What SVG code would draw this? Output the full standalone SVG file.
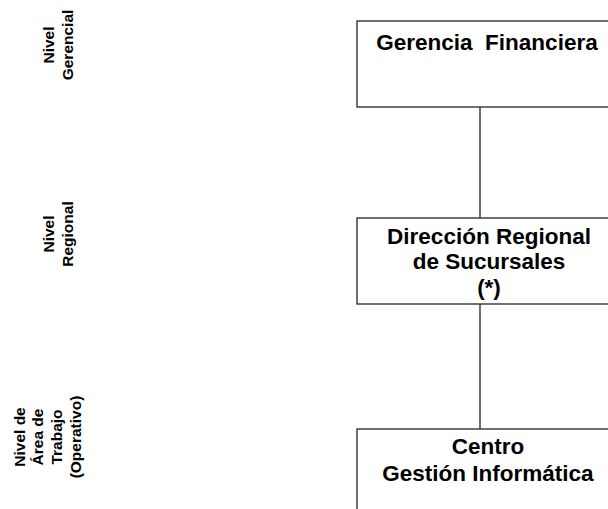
<svg xmlns="http://www.w3.org/2000/svg" width="608" height="509" viewBox="0 0 608 509">
<style>
.box{fill:#fff;stroke:#222;stroke-width:1.3}
.conn{stroke:#222;stroke-width:1.3;fill:none}
.t{font-family:"Liberation Sans",Arial,sans-serif;font-weight:bold;font-size:22.5px;fill:#000;text-anchor:middle;white-space:pre}
.lvl{font-family:"Liberation Sans",Arial,sans-serif;font-weight:bold;font-size:15.5px;fill:#000;text-anchor:middle}
</style>
<rect width="608" height="509" fill="#fff"/>
<g id="connectors">
<line class="conn" x1="480" y1="107" x2="480" y2="218"/>
<line class="conn" x1="480" y1="304" x2="480" y2="429"/>
</g>
<g id="level-labels">
<text class="lvl" transform="translate(54,45) rotate(-90)">Nivel</text>
<text class="lvl" transform="translate(73,45) rotate(-90)">Gerencial</text>
<text class="lvl" transform="translate(54,234) rotate(-90)">Nivel</text>
<text class="lvl" transform="translate(73,234) rotate(-90)">Regional</text>
<text class="lvl" transform="translate(25,437) rotate(-90)">Nivel de</text>
<text class="lvl" transform="translate(43,437) rotate(-90)">Área de</text>
<text class="lvl" transform="translate(61.5,437) rotate(-90)">Trabajo</text>
<text class="lvl" transform="translate(80.5,437) rotate(-90)">(Operativo)</text>
</g>
<g id="gerencia">
<rect class="box" x="357" y="21" width="270" height="86"/>
<text class="t" x="487" y="50" xml:space="preserve">Gerencia  Financiera</text>
</g>
<g id="direccion">
<rect class="box" x="357" y="218" width="270" height="86"/>
<text class="t" x="489" y="244">Dirección Regional</text>
<text class="t" x="489" y="269">de Sucursales</text>
<text class="t" x="489" y="295">(*)</text>
</g>
<g id="centro">
<rect class="box" x="357" y="429" width="270" height="100"/>
<text class="t" x="488" y="454">Centro</text>
<text class="t" x="488" y="481">Gestión Informática</text>
</g>
</svg>
